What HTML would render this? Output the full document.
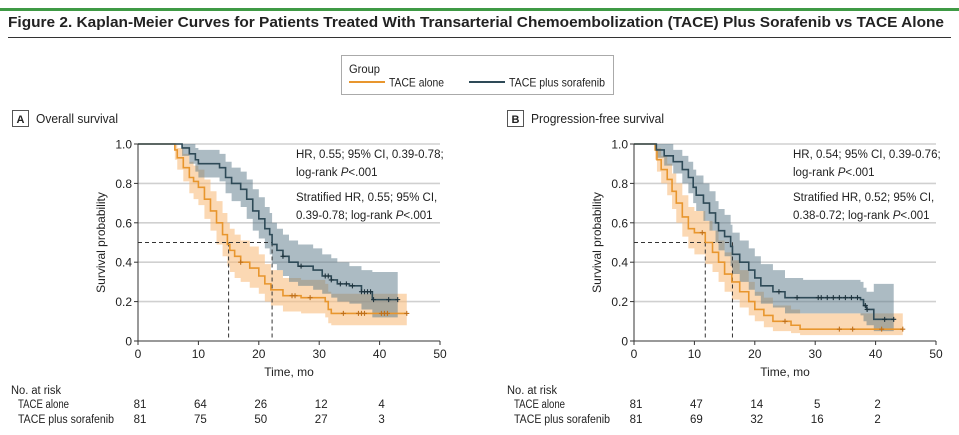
<!DOCTYPE html>
<html><head><meta charset="utf-8"><style>
body{margin:0;background:#fff;}
svg{display:block;font-family:"Liberation Sans",sans-serif;}
</style></head><body>
<svg id="fig" width="959" height="435" viewBox="0 0 959 435">
<rect x="0" y="8" width="959" height="3" fill="#3f9a45"/>
<text x="8" y="27" font-size="15" font-weight="bold" fill="#222" textLength="936" lengthAdjust="spacingAndGlyphs">Figure 2. Kaplan-Meier Curves for Patients Treated With Transarterial Chemoembolization (TACE) Plus Sorafenib vs TACE Alone</text>
<rect x="8" y="37" width="943" height="1" fill="#333"/>
<g>
<rect x="341.5" y="55.5" width="272" height="39" fill="#fff" stroke="#aaa"/>
<text x="349" y="73" font-size="12" fill="#222" textLength="31" lengthAdjust="spacingAndGlyphs">Group</text>
<line x1="349" y1="82" x2="385" y2="82" stroke="#E8962E" stroke-width="2"/>
<text x="389" y="86.5" font-size="12" fill="#222" textLength="55" lengthAdjust="spacingAndGlyphs">TACE alone</text>
<line x1="469" y1="82" x2="505" y2="82" stroke="#2E4A57" stroke-width="2"/>
<text x="509" y="86.5" font-size="12" fill="#222" textLength="96" lengthAdjust="spacingAndGlyphs">TACE plus sorafenib</text>
</g>
<g id="panelA"></g>
<g id="panelB"></g>
</svg>
<script>
// Panel A: overall survival
const aOrangeT = [0,6.1,6.5,7.5,8.5,9.2,10,11,12,13,14,14.8,15.2,16,17,18.5,20,21,22,24,27,31,31.5,32];
const aOrangeS = [1,0.97,0.93,0.88,0.83,0.81,0.78,0.72,0.66,0.60,0.54,0.49,0.46,0.43,0.40,0.37,0.33,0.29,0.26,0.23,0.22,0.20,0.16,0.14];
const aOrangeLo= [1,0.92,0.87,0.81,0.75,0.72,0.69,0.62,0.56,0.49,0.43,0.38,0.35,0.32,0.30,0.27,0.24,0.20,0.18,0.15,0.14,0.12,0.09,0.08];
const aOrangeHi= [1,1,0.98,0.95,0.91,0.89,0.87,0.82,0.76,0.71,0.65,0.60,0.57,0.54,0.51,0.48,0.44,0.39,0.36,0.32,0.31,0.29,0.25,0.24];
const aOrangeEnd = 44.5;
const aOrangeCens = [17,25.5,26,28.5,34,36.5,37,37.5,40.3,40.8,41.3,44.5];
const aBlueT = [0,7.3,8.5,9.5,10,13.5,14.5,15.5,17,18,19,20,21,21.8,22.2,23,24,25,26.5,29,30.5,32,33,35,37,38.8];
const aBlueS = [1,0.98,0.95,0.92,0.90,0.88,0.83,0.80,0.77,0.72,0.66,0.62,0.57,0.54,0.49,0.46,0.43,0.40,0.38,0.36,0.33,0.31,0.29,0.28,0.25,0.21];
const aBlueLo= [1,0.94,0.90,0.86,0.83,0.81,0.75,0.71,0.68,0.62,0.56,0.52,0.47,0.44,0.39,0.36,0.33,0.30,0.28,0.26,0.24,0.22,0.20,0.19,0.16,0.12];
const aBlueHi= [1,1,1,0.98,0.97,0.95,0.91,0.88,0.86,0.82,0.77,0.73,0.68,0.65,0.60,0.57,0.54,0.51,0.49,0.47,0.44,0.42,0.40,0.38,0.36,0.35];
const aBlueEnd = 43;
const aBlueCens = [24,27,31,31.5,32,33.5,34.5,35.5,37,37.5,38,38.5,39,41.5,43];
const aMedians = [15,22.2];
const aRiskAlone = ["81","64","26","12","4"];
const aRiskSora = ["81","75","50","27","3"];
const aAnno = ["HR, 0.55; 95% CI, 0.39-0.78;","log-rank ","Stratified HR, 0.55; 95% CI,","0.39-0.78; log-rank "];

// Panel B: progression-free survival
const bOrangeT = [0,3.5,3.8,4.5,5.5,6.3,7,8,9,10,11.8,13,14,15,16.2,17.5,19,20,21.5,23,26,27.5];
const bOrangeS = [1,0.97,0.92,0.87,0.82,0.76,0.70,0.63,0.57,0.55,0.50,0.45,0.40,0.34,0.30,0.25,0.20,0.16,0.13,0.10,0.08,0.06];
const bOrangeLo= [1,0.92,0.86,0.80,0.74,0.67,0.60,0.53,0.47,0.44,0.39,0.35,0.30,0.25,0.21,0.17,0.13,0.10,0.07,0.05,0.04,0.03];
const bOrangeHi= [1,1,0.98,0.94,0.90,0.85,0.80,0.74,0.68,0.66,0.61,0.56,0.51,0.45,0.41,0.36,0.30,0.25,0.22,0.18,0.16,0.14];
const bOrangeEnd = 44.5;
const bOrangeCens = [11.3,25,34,36.2,41,44.5];
const bBlueT = [0,3.7,5,6.5,8,9,9.8,10.3,11.5,12.5,13.5,14,15,16,16.3,17.5,19,20,21,23,25,28,37.5,38,38.5,39.7];
const bBlueS = [1,0.97,0.94,0.91,0.87,0.83,0.78,0.74,0.70,0.65,0.60,0.56,0.53,0.48,0.44,0.40,0.36,0.32,0.28,0.25,0.22,0.22,0.21,0.18,0.16,0.11];
const bBlueLo= [1,0.93,0.89,0.85,0.80,0.75,0.70,0.66,0.61,0.56,0.50,0.46,0.43,0.38,0.34,0.30,0.26,0.23,0.19,0.17,0.14,0.14,0.13,0.10,0.08,0.05];
const bBlueHi= [1,1,1,0.97,0.94,0.91,0.87,0.84,0.80,0.76,0.71,0.67,0.64,0.59,0.55,0.51,0.47,0.43,0.39,0.36,0.32,0.31,0.30,0.27,0.25,0.29];
const bBlueEnd = 43;
const bBlueCens = [24,27,30.5,31,32,33,34,35,36,37,38.3,38.6,41.5,43];
const bMedians = [11.8,16.3];
const bRiskAlone = ["81","47","14","5","2"];
const bRiskSora = ["81","69","32","16","2"];
const bAnno = ["HR, 0.54; 95% CI, 0.39-0.76;","log-rank ","Stratified HR, 0.52; 95% CI,","0.38-0.72; log-rank "];

const yTicks = ["0","0.2","0.4","0.6","0.8","1.0"];
const xTicks = ["0","10","20","30","40","50"];

const NS="http://www.w3.org/2000/svg";
function mk(tag, attrs, parent, txt){
  const e=document.createElementNS(NS,tag);
  for(const k in attrs) e.setAttribute(k,attrs[k]);
  if(txt!==undefined) e.textContent=txt;
  parent.appendChild(e); return e;
}
function stepPath(T,S,end,xs,ys){
  let d="M"+xs(T[0])+","+ys(S[0]);
  for(let i=1;i<T.length;i++){ d+="H"+xs(T[i])+"V"+ys(S[i]); }
  d+="H"+xs(end); return d;
}
function bandPath(T,lo,hi,end,xs,ys){
  let d="M"+xs(T[0])+","+ys(hi[0]);
  for(let i=1;i<T.length;i++){ d+="H"+xs(T[i])+"V"+ys(hi[i]); }
  d+="H"+xs(end)+"V"+ys(lo[lo.length-1]);
  for(let i=T.length-1;i>=1;i--){ d+="H"+xs(T[i])+"V"+ys(lo[i-1]); }
  d+="H"+xs(T[0])+"Z"; return d;
}
function stepAt(T,S,t){ let v=S[0]; for(let i=0;i<T.length;i++){ if(T[i]<=t) v=S[i]; } return v; }

function panel(g, o){
  const x0=o.x0, x1=o.x0+302, yT=144, yB=341;
  const xs=t=>x0+(t/50)*(x1-x0);
  const ys=s=>yB-s*(yB-yT);
  const lb=mk("rect",{x:o.lx+0.5,y:110.5,width:16,height:16,fill:"#fff",stroke:"#555"},g);
  
  
  const lt=mk("text",{x:o.lx+8.5,y:123,"font-size":11,"font-weight":"bold","text-anchor":"middle",fill:"#222"},g,o.letter);
  
  
  const pt=mk("text",{x:o.lx+24,y:123,"font-size":12.5,fill:"#222",textLength:o.tl,lengthAdjust:"spacingAndGlyphs"},g,o.title);
  
  
  yTicks.forEach((lab,i)=>{
    const v=parseFloat(lab);
    if(v>0){
      const gl=mk("line",{x1:x0,x2:x1,y1:ys(v),y2:ys(v),stroke:"#d0d0d0","stroke-width":1.6},g);
      
      
    }
    const tk=mk("line",{x1:x0-4,x2:x0,y1:ys(v),y2:ys(v),stroke:"#333"},g);
    
    
    const tl=mk("text",{x:x0-6,y:ys(v)+4.5,"font-size":12,"text-anchor":"end",fill:"#222"},g,lab);
    
    
  });
  const b1=mk("path",{d:bandPath(o.oT,o.oLo,o.oHi,o.oEnd,xs,ys),fill:"#F8BE80","fill-opacity":0.6},g);
  
  
  const b2=mk("path",{d:bandPath(o.bT,o.bLo,o.bHi,o.bEnd,xs,ys),fill:"#5A7788","fill-opacity":0.5},g);
  
  
  const dl=mk("line",{x1:x0,x2:xs(o.med[1]),y1:ys(0.5),y2:ys(0.5),stroke:"#333","stroke-dasharray":"4,3"},g);
  
  
  o.med.forEach(m=>{
    const v=mk("line",{x1:xs(m),x2:xs(m),y1:ys(0.5),y2:yB,stroke:"#333","stroke-dasharray":"4,3"},g);
    
    
  });
  const c1=mk("path",{d:stepPath(o.oT,o.oS,o.oEnd,xs,ys),fill:"none",stroke:"#E8962E","stroke-width":1.6},g);
  
  
  const c2=mk("path",{d:stepPath(o.bT,o.bS,o.bEnd,xs,ys),fill:"none",stroke:"#2E4A57","stroke-width":1.6},g);
  
  
  [[o.oC,o.oT,o.oS,"#C0701A"],[o.bC,o.bT,o.bS,"#1E333D"]].forEach(([C,T,S,col])=>{
    C.forEach(t=>{
      const cx=xs(t), cy=ys(stepAt(T,S,t));
      const p=mk("path",{d:`M${cx-2.5},${cy}H${cx+2.5}M${cx},${cy-2.5}V${cy+2.5}`,stroke:col,"stroke-width":1.1},g);
      
      
    });
  });
  const ax=mk("line",{x1:x0,x2:x1,y1:yB,y2:yB,stroke:"#333"},g);
  
  
  const ay=mk("line",{x1:x0,x2:x0,y1:yT,y2:yB,stroke:"#333"},g);
  
  
  xTicks.forEach(lab=>{
    const v=parseFloat(lab);
    const tk=mk("line",{x1:xs(v),x2:xs(v),y1:yB,y2:yB+4,stroke:"#333"},g);
    
    
    const tl=mk("text",{x:xs(v),y:yB+17,"font-size":12,"text-anchor":"middle",fill:"#222"},g,lab);
    
    
  });
  const xt=mk("text",{x:(x0+x1)/2,y:376,"font-size":12,"text-anchor":"middle",fill:"#222"},g,"Time, mo");
  
  
  const yt=mk("text",{x:0,y:0,"font-size":12,"text-anchor":"middle",fill:"#222",transform:`translate(${x0-33},${(yT+yB)/2}) rotate(-90)`},g,"Survival probability");
  
  
  const ax0=o.ax;
  const lines=[[o.anno[0],154,false],[o.anno[1],172,true],[o.anno[2],197,false],[o.anno[3],215,true]];
  lines.forEach(([s,y,p])=>{
    const t=mk("text",{x:ax0,y:y+4,"font-size":11.5,fill:"#222"},g,s);
    
    
    if(p){
      mk("tspan",{"font-style":"italic"},t,"P");
      mk("tspan",{},t,"<.001");
    }
  });
  const rh=mk("text",{x:o.rx,y:394,"font-size":11.5,fill:"#222",textLength:50,lengthAdjust:"spacingAndGlyphs"},g,"No. at risk");
  
  
  const r1=mk("text",{x:o.rx+7,y:408,"font-size":11.5,fill:"#222",textLength:51,lengthAdjust:"spacingAndGlyphs"},g,"TACE alone");
  
  
  const r2=mk("text",{x:o.rx+7,y:423,"font-size":11.5,fill:"#222",textLength:96,lengthAdjust:"spacingAndGlyphs"},g,"TACE plus sorafenib");
  
  
  o.riskA.forEach((n,i)=>{
    const t=mk("text",{x:xs(i*10)+2,y:408,"font-size":11.5,"text-anchor":"middle",fill:"#222"},g,n);
    
    
  });
  o.riskS.forEach((n,i)=>{
    const t=mk("text",{x:xs(i*10)+2,y:423,"font-size":11.5,"text-anchor":"middle",fill:"#222"},g,n);
    
    
  });
}
panel(document.getElementById("panelA"),{x0:138,lx:12,letter:"A",title:"Overall survival",tl:82,ax:296,rx:11,
  oT:aOrangeT,oS:aOrangeS,oLo:aOrangeLo,oHi:aOrangeHi,oEnd:aOrangeEnd,oC:aOrangeCens,
  bT:aBlueT,bS:aBlueS,bLo:aBlueLo,bHi:aBlueHi,bEnd:aBlueEnd,bC:aBlueCens,
  med:aMedians,riskA:aRiskAlone,riskS:aRiskSora,anno:aAnno});
panel(document.getElementById("panelB"),{x0:634,lx:507,letter:"B",title:"Progression-free survival",tl:133,ax:793,rx:507,
  oT:bOrangeT,oS:bOrangeS,oLo:bOrangeLo,oHi:bOrangeHi,oEnd:bOrangeEnd,oC:bOrangeCens,
  bT:bBlueT,bS:bBlueS,bLo:bBlueLo,bHi:bBlueHi,bEnd:bBlueEnd,bC:bBlueCens,
  med:bMedians,riskA:bRiskAlone,riskS:bRiskSora,anno:bAnno});
</script>
</body></html>
